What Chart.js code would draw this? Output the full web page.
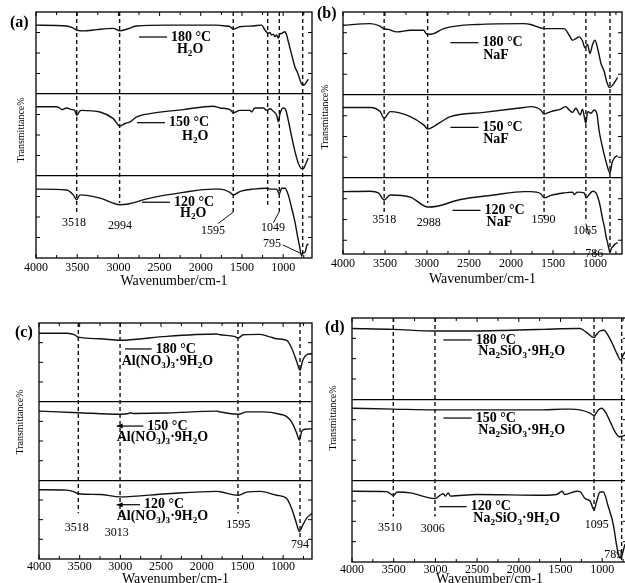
<!DOCTYPE html>
<html>
<head>
<meta charset="utf-8">
<script src="https://cdn.jsdelivr.net/npm/chart.js@4.4.0/dist/chart.umd.min.js"></script>
<style>
body{margin:0;width:625px;height:583px;overflow:hidden;background:#fff;position:relative}
canvas{position:absolute}
.tag{position:absolute;font:bold 16px 'Liberation Serif',serif;line-height:16px;color:#000}
</style>
</head>
<body>
<canvas id="pa" width="316" height="290" style="left:0;top:0"></canvas>
<canvas id="pb" width="311" height="290" style="left:314px;top:0"></canvas>
<canvas id="pc" width="316" height="288" style="left:0;top:295px"></canvas>
<canvas id="pd" width="320" height="288" style="left:314px;top:295px"></canvas>
<div class="tag" style="left:10px;top:14px">(a)</div>
<div class="tag" style="left:317px;top:5px">(b)</div>
<div class="tag" style="left:15px;top:324px">(c)</div>
<div class="tag" style="left:325px;top:319px">(d)</div>
<script>
var FONT = "'Liberation Serif','Times New Roman',serif";

// tick values shared by all panels
var xTicks = [4000, 3750, 3500, 3250, 3000, 2750, 2500, 2250, 2000, 1750, 1500, 1250, 1000, 750];
var yTicks = [0.25, 0.5, 0.75, 1, 1.25, 1.5, 1.75, 2, 2.25, 2.5, 2.75];

// (a) H2O : [wavenumber, offset transmittance]
var a180 = [[4000,2.84],[3630,2.83],[3560,2.81],[3506,2.78],[3426,2.77],[3300,2.78],[3223,2.79],[3062,2.80],[2981,2.77],[2900,2.79],[2778,2.83],[2414,2.84],[1807,2.84],[1700,2.83],[1640,2.82],[1606,2.79],[1525,2.82],[1363,2.83],[1261,2.84],[1221,2.78],[1181,2.74],[1160,2.75],[1140,2.72],[1120,2.73],[1100,2.70],[1080,2.72],[1059,2.68],[1040,2.73],[1018,2.74],[978,2.76],[958,2.72],[938,2.64],[897,2.48],[857,2.33],[830,2.27],[808,2.21],[785,2.14],[763,2.11],[745,2.11],[735,2.12],[715,2.15],[695,2.18]];
var a150 = [[4000,1.845],[3749,1.845],[3700,1.82],[3688,1.81],[3628,1.83],[3567,1.81],[3530,1.80],[3506,1.74],[3470,1.79],[3446,1.80],[3223,1.78],[3062,1.70],[2981,1.61],[2920,1.64],[2859,1.66],[2778,1.72],[2616,1.76],[2212,1.81],[1848,1.85],[1767,1.83],[1646,1.81],[1606,1.77],[1525,1.80],[1403,1.80],[1383,1.78],[1342,1.83],[1241,1.83],[1200,1.80],[1160,1.82],[1120,1.79],[1079,1.74],[1059,1.66],[1039,1.76],[999,1.83],[970,1.81],[938,1.68],[897,1.48],[857,1.30],[816,1.155],[776,1.09],[755,1.09],[723,1.155],[695,1.22]];
var a120 = [[4000,0.84],[3628,0.83],[3547,0.77],[3506,0.71],[3466,0.77],[3223,0.73],[2981,0.65],[2900,0.655],[2616,0.73],[2212,0.80],[1848,0.84],[1767,0.84],[1646,0.80],[1606,0.77],[1525,0.81],[1363,0.84],[1200,0.85],[1160,0.84],[1079,0.84],[1047,0.78],[1018,0.85],[978,0.85],[938,0.77],[897,0.61],[857,0.44],[828,0.28],[804,0.16],[775,0.02],[763,0.06],[735,0.07],[710,0.16],[690,0.17]];
var aPeaks = ['3518','2994','1595','1049','795'];
var aDashX = [3506, 2985, 1606, 1188, 1047, 763];
var aDashEnd = [0.56, 0.67, 0.56, 0.65, 0.565, 0.05];

// (b) NaF
var b180 = [[4000,2.84],[3677,2.86],[3560,2.83],[3518,2.80],[3459,2.79],[3358,2.76],[3199,2.78],[3040,2.78],[3000,2.73],[2921,2.74],[2801,2.80],[2402,2.85],[1845,2.86],[1765,2.85],[1606,2.80],[1446,2.80],[1367,2.80],[1307,2.72],[1267,2.66],[1228,2.68],[1188,2.70],[1148,2.65],[1120,2.57],[1088,2.61],[1060,2.50],[1028,2.61],[1000,2.66],[968,2.56],[928,2.38],[889,2.28],[860,2.16],[825,2.09],[789,2.12],[750,2.18],[730,2.21]];
var b150 = [[4000,1.85],[3677,1.85],[3558,1.80],[3510,1.72],[3438,1.80],[3199,1.74],[3040,1.64],[2988,1.59],[2921,1.62],[2721,1.74],[2323,1.79],[1845,1.85],[1765,1.86],[1646,1.82],[1606,1.77],[1526,1.80],[1407,1.83],[1347,1.86],[1307,1.82],[1267,1.79],[1228,1.84],[1176,1.76],[1148,1.83],[1120,1.70],[1108,1.66],[1088,1.80],[1048,1.78],[1009,1.82],[976,1.77],[949,1.56],[908,1.36],[869,1.20],[841,1.10],[821,1.06],[797,1.18],[770,1.24],[730,1.27]];
var b120 = [[4000,0.835],[3677,0.84],[3578,0.82],[3510,0.735],[3438,0.795],[3199,0.77],[2988,0.65],[2880,0.66],[2602,0.74],[2204,0.795],[1845,0.835],[1765,0.835],[1646,0.81],[1606,0.76],[1526,0.79],[1367,0.82],[1267,0.83],[1247,0.80],[1208,0.83],[1128,0.82],[1104,0.76],[1068,0.80],[1028,0.84],[988,0.82],[949,0.71],[930,0.62],[908,0.50],[885,0.40],[869,0.30],[850,0.22],[830,0.13],[821,0.10],[805,0.15],[790,0.17],[765,0.20],[730,0.22]];
var bPeaks = ['3518','2988','1590','1065','786'];
var bDashX = [3510, 2992, 1606, 1108, 821];
var bDashEnd = [0.58, 0.70, 0.52, 0.47, 0.11];

// (c) Al(NO3)3.9H2O
var c180 = [[4000,2.87],[3659,2.87],[3560,2.85],[3517,2.82],[3250,2.80],[3004,2.78],[2840,2.79],[2431,2.83],[1815,2.86],[1776,2.85],[1600,2.83],[1551,2.81],[1489,2.85],[1284,2.855],[1150,2.82],[1079,2.80],[956,2.78],[894,2.68],[833,2.51],[792,2.40],[760,2.52],[702,2.60],[640,2.61]];
var c150 = [[4000,1.88],[3517,1.86],[3004,1.84],[2900,1.85],[2880,1.86],[2840,1.85],[2431,1.855],[1815,1.88],[1776,1.87],[1551,1.84],[1447,1.87],[1243,1.87],[1038,1.84],[956,1.81],[894,1.74],[833,1.60],[800,1.51],[772,1.62],[731,1.65],[640,1.655]];
var c120 = [[4000,0.88],[3659,0.875],[3560,0.85],[3517,0.83],[3250,0.82],[3004,0.79],[2431,0.83],[1815,0.86],[1776,0.855],[1551,0.81],[1447,0.85],[1284,0.86],[1079,0.81],[956,0.77],[894,0.64],[841,0.47],[800,0.35],[759,0.43],[710,0.52],[640,0.58]];
var cPeaks = ['3518','3013','1595','794'];
var cDashX = [3517, 3004, 1555, 792];
var cDashEnd = [0.58, 0.52, 0.58, 0.28];

// (d) Na2SiO3.9H2O
var d180 = [[4000,2.87],[3505,2.86],[3005,2.84],[2505,2.84],[2106,2.85],[1706,2.86],[1306,2.87],[1266,2.87],[1186,2.82],[1098,2.76],[1066,2.80],[1027,2.84],[979,2.85],[927,2.78],[867,2.66],[819,2.55],[779,2.48],[747,2.55],[707,2.60]];
var d150 = [[4000,1.89],[3505,1.88],[3005,1.87],[2505,1.87],[1706,1.87],[1466,1.88],[1386,1.88],[1266,1.87],[1146,1.83],[1098,1.80],[1047,1.87],[1006,1.89],[954,1.83],[898,1.71],[846,1.60],[795,1.54],[747,1.55],[707,1.57]];
var d120 = [[4000,0.87],[3584,0.865],[3505,0.82],[3456,0.86],[3300,0.85],[3005,0.78],[2945,0.82],[2905,0.84],[2880,0.81],[2846,0.85],[2820,0.81],[2505,0.83],[1706,0.82],[1546,0.83],[1480,0.87],[1450,0.83],[1306,0.87],[1266,0.865],[1206,0.78],[1146,0.75],[1098,0.64],[1066,0.75],[1027,0.86],[987,0.86],[927,0.68],[867,0.46],[827,0.20],[800,0.07],[785,0.05],[767,0.07],[745,0.15],[727,0.22]];
var dPeaks = ['3510','3006','1095','789'];
var dDashX = [3505, 3005, 1098, 767];
var dDashEnd = [0.56, 0.56, 0.60, 0];

var temps = ['180 °C', '150 °C', '120 °C'];

var panels = [
  {id:'pa', series:[a180,a150,a120], dashX:aDashX, dashEnd:aDashEnd, peaks:aPeaks, salt:'H_2O',
   xMin:650, yMin:0, yWidth:36, padTop:12, padRight:4, xHeight:32, tickPad:3,
   yTitle:[21,130], xTitleY:281,
   peakPos:[[3539,0.43],[2981,0.39],[1852,0.33],[1124,0.37],[1136,0.17]],
   leaders:[[1606,0.56,1790,0.42],[1047,0.565,1120,0.43],[1005,0.16,775,0.05]],
   notes:[{x1:2750,x2:2410,y:2.695,tx:2289,ty:2.54},{x1:2774,x2:2434,y:1.65,tx:2228,ty:1.48},{x1:2714,x2:2374,y:0.68,tx:2252,ty:0.55}]},
  {id:'pb', series:[b180,b150,b120], dashX:bDashX, dashEnd:bDashEnd, peaks:bPeaks, salt:'NaF',
   xMin:678, yMin:0.084, yWidth:29, padTop:12, padRight:3, xHeight:36, tickPad:3,
   yTitle:[11,117], xTitleY:279,
   peakPos:[[3510,0.49],[2980,0.46],[1612,0.49],[1120,0.36],[1009,0.09]],
   leaders:[[1108,0.45,1068,0.31]],
   notes:[{x1:2721,x2:2387,y:2.63,tx:2331,ty:2.48},{x1:2721,x2:2387,y:1.61,tx:2331,ty:1.47},{x1:2697,x2:2363,y:0.61,tx:2291,ty:0.46}]},
  {id:'pc', series:[c180,c150,c120], dashX:cDashX, dashEnd:cDashEnd, peaks:cPeaks, salt:'Al(NO_3)_3·9H_2O',
   xMin:645, yMin:0, yWidth:39, padTop:28, padRight:4, xHeight:24, tickPad:1,
   yTitle:[20,127], xTitleY:284,
   peakPos:[[3537,0.39],[3045,0.33],[1551,0.43],[792,0.18]],
   leaders:[],
   notes:[{x1:2943,x2:2615,y:2.67,tx:2984,ty:2.51},{x1:3045,x2:2718,y:1.69,tx:3045,ty:1.55,arrow:true},{x1:3045,x2:2759,y:0.69,tx:3045,ty:0.54,arrow:true}]},
  {id:'pd', series:[d180,d150,d120], dashX:dDashX, dashEnd:dDashEnd, peaks:dPeaks, salt:'Na_2SiO_3·9H_2O',
   xMin:703, yMin:0, yWidth:38, padTop:23, padRight:7, xHeight:21, tickPad:1,
   yTitle:[19,123], xTitleY:284,
   peakPos:[[3544,0.42],[3032,0.41],[1066,0.46],[867,0.09]],
   leaders:[],
   notes:[{x1:2905,x2:2565,y:2.73,tx:2486,ty:2.59},{x1:2905,x2:2565,y:1.77,tx:2486,ty:1.62},{x1:2953,x2:2625,y:0.68,tx:2546,ty:0.54}]}
];

// text with "_x" subscripts
function rich(ctx, s, x, y, size) {
  ctx.textAlign = 'left';
  for (var i = 0; i < s.length; i++) {
    var ch = s[i], sub = false;
    if (ch === '_') { sub = true; ch = s[++i]; }
    ctx.font = 'bold ' + (sub ? size * 0.65 : size) + 'px ' + FONT;
    ctx.fillText(ch, x, sub ? y + size * 0.3 : y);
    x += ctx.measureText(ch).width;
  }
}

function decor(p) {
  return {
    id: 'decor',
    afterDraw: function(chart) {
      var ctx = chart.ctx, a = chart.chartArea, sx = chart.scales.x, sy = chart.scales.y;
      ctx.save();
      ctx.strokeStyle = '#000';
      ctx.fillStyle = '#000';
      ctx.lineWidth = 1.3;
      ctx.strokeRect(a.left, a.top, a.right - a.left, a.bottom - a.top);
      // inward ticks
      ctx.lineWidth = 1;
      ctx.beginPath();
      sx.ticks.forEach(function(t) {
        var px = sx.getPixelForValue(t.value), len = t.value % 500 === 0 ? 4 : 3;
        ctx.moveTo(px, a.bottom); ctx.lineTo(px, a.bottom - len);
        ctx.moveTo(px, a.top); ctx.lineTo(px, a.top + len);
      });
      sy.ticks.forEach(function(t) {
        if (Number.isInteger(t.value)) return;
        var py = sy.getPixelForValue(t.value);
        ctx.moveTo(a.left, py); ctx.lineTo(a.left + 4, py);
        ctx.moveTo(a.right, py); ctx.lineTo(a.right - 4, py);
      });
      ctx.stroke();
      // sample notes
      ctx.textBaseline = 'middle';
      p.notes.forEach(function(n, i) {
        var x1 = sx.getPixelForValue(n.x1), x2 = sx.getPixelForValue(n.x2), y = sy.getPixelForValue(n.y);
        ctx.lineWidth = 1.2;
        ctx.beginPath(); ctx.moveTo(x1, y); ctx.lineTo(x2, y); ctx.stroke();
        if (n.arrow) {
          ctx.beginPath(); ctx.moveTo(x1, y); ctx.lineTo(x1 + 6, y - 2.5); ctx.lineTo(x1 + 6, y + 2.5); ctx.closePath(); ctx.fill();
        }
        ctx.font = 'bold 14px ' + FONT;
        ctx.textAlign = 'left';
        ctx.fillText(temps[i], x2 + 4, y);
        rich(ctx, p.salt, sx.getPixelForValue(n.tx), sy.getPixelForValue(n.ty), 14);
      });
      // peak labels
      ctx.font = '12px ' + FONT;
      ctx.textAlign = 'center';
      p.peaks.forEach(function(s, i) {
        ctx.fillText(s, sx.getPixelForValue(p.peakPos[i][0]), sy.getPixelForValue(p.peakPos[i][1]));
      });
      // y title
      ctx.save();
      ctx.translate(p.yTitle[0], p.yTitle[1]);
      ctx.rotate(-Math.PI / 2);
      ctx.font = '10px ' + FONT;
      ctx.fillText('Transmittance%', 0, 0);
      ctx.restore();
      // x title
      ctx.font = '14px ' + FONT;
      ctx.fillText('Wavenumber/cm-1', (a.left + a.right) / 2, p.xTitleY);
      ctx.restore();
    }
  };
}

function pts(arr) {
  return arr.map(function(q) { return {x: q[0], y: q[1]}; });
}

panels.forEach(function(p) {
  var datasets = [];
  p.series.forEach(function(s) {
    datasets.push({data: pts(s), borderColor: '#111', borderWidth: 1.4, pointRadius: 0, cubicInterpolationMode: 'monotone'});
  });
  p.dashX.forEach(function(x, i) {
    datasets.push({data: [{x: x, y: 3}, {x: x, y: p.dashEnd[i]}], borderColor: '#111', borderWidth: 1.4, borderDash: [4, 3], pointRadius: 0});
  });
  p.leaders.forEach(function(l) {
    datasets.push({data: [{x: l[0], y: l[1]}, {x: l[2], y: l[3]}], borderColor: '#111', borderWidth: 1, pointRadius: 0});
  });

  new Chart(document.getElementById(p.id), {
    type: 'line',
    data: {datasets: datasets},
    plugins: [decor(p)],
    options: {
      responsive: false,
      animation: false,
      layout: {padding: {left: 0, top: p.padTop, right: p.padRight, bottom: 0}},
      plugins: {legend: {display: false}, tooltip: {enabled: false}},
      scales: {
        x: {
          type: 'linear', reverse: true, min: p.xMin, max: 4000,
          afterBuildTicks: function(s) { s.ticks = xTicks.map(function(v) { return {value: v}; }); },
          afterFit: function(s) { s.height = p.xHeight; },
          grid: {display: false, drawTicks: false},
          border: {display: false},
          ticks: {
            autoSkip: false, maxRotation: 0, minRotation: 0,
            padding: p.tickPad, color: '#000', font: {family: FONT, size: 12},
            callback: function(v) { return v % 500 === 0 ? String(v) : ''; }
          }
        },
        y: {
          min: p.yMin, max: 3,
          afterBuildTicks: function(s) { s.ticks = yTicks.map(function(v) { return {value: v}; }); },
          afterFit: function(s) { s.width = p.yWidth; },
          border: {display: false},
          grid: {
            drawTicks: false, lineWidth: 1.3,
            color: function(c) { return (c.tick && (c.tick.value === 1 || c.tick.value === 2)) ? '#000' : 'rgba(0,0,0,0)'; }
          },
          ticks: {display: false}
        }
      }
    }
  });
});
</script>
</body>
</html>
